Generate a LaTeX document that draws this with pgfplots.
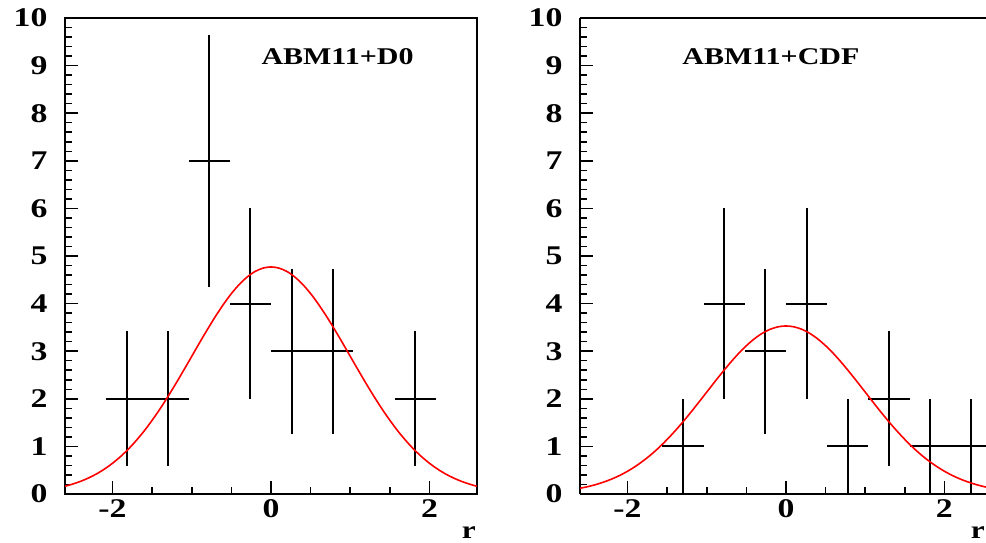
\documentclass[border=0pt]{standalone}
\usepackage{fontspec}
\setmainfont{Liberation Serif}[FakeStretch=1.25]
\usepackage{pgfplots}
\pgfplotsset{compat=1.18}
\pgfplotsset{
  rootstyle/.style={
    scale only axis,
    height=476pt,
    ymin=0, ymax=10,
    xmin=-2.6,
    tick pos=left,
    tick align=inside,
    ytick={0,1,2,3,4,5,6,7,8,9,10},
    yticklabels={0,1,2,3,4,5,6,7,8,9,10},
    minor y tick num=4,
    xtick={-2,0,2},
    xticklabels={-2,0,2},
    minor x tick num=3,
    major tick length=13pt,
    minor tick length=7pt,
    axis line style={line width=2pt},
    every tick/.style={black, line width=1.5pt},
    tick label style={font=\fontsize{27}{27}\selectfont\bfseries},
    yticklabel style={xshift=-14pt},
    xticklabel style={yshift=-2pt},
    /pgf/number format/assume math mode=true,
    clip=true,
    xlabel={r},
    xlabel style={font=\fontsize{25}{25}\selectfont\bfseries, anchor=base},
    errb/.style={black, line width=2pt, mark=none, draw=none,
      error bars/.cd, x dir=both, x explicit, y dir=both, y explicit,
      error mark=none, error bar style={black, line width=2pt}},
    fitc/.style={red, line width=1.6pt, smooth, mark=none},
  }
}
\begin{document}
\begin{tikzpicture}[x=1pt,y=1pt]
\useasboundingbox (0,0) rectangle (986,543);
\begin{axis}[rootstyle, at={(65pt,49pt)}, anchor=south west, width=412pt, xmax=2.6,
  xlabel style={at={(axis description cs:0.98,0)}, yshift=-45pt}]
\addplot[errb] coordinates {
  (-1.82,2) +- (0.26,1.414)
  (-1.30,2) +- (0.26,1.414)
  (-0.78,7) +- (0.26,2.646)
  (-0.26,4) +- (0.26,2.0)
  (0.26,3) +- (0.26,1.732)
  (0.78,3) +- (0.26,1.732)
  (1.82,2) +- (0.26,1.414)
};
\addplot[fitc] coordinates {
  (-2.6,0.162) (-2.5,0.210) (-2.4,0.268) (-2.3,0.339) (-2.2,0.424) (-2.1,0.526)
  (-2.0,0.646) (-1.9,0.785) (-1.8,0.944) (-1.7,1.125) (-1.6,1.326) (-1.5,1.549)
  (-1.4,1.790) (-1.3,2.049) (-1.2,2.322) (-1.1,2.605) (-1.0,2.893) (-0.9,3.182)
  (-0.8,3.464) (-0.7,3.734) (-0.6,3.984) (-0.5,4.210) (-0.4,4.403) (-0.3,4.560)
  (-0.2,4.676) (-0.1,4.746) (0,4.770) (0.1,4.746) (0.2,4.676) (0.3,4.560)
  (0.4,4.403) (0.5,4.210) (0.6,3.984) (0.7,3.734) (0.8,3.464) (0.9,3.182)
  (1.0,2.893) (1.1,2.605) (1.2,2.322) (1.3,2.049) (1.4,1.790) (1.5,1.549)
  (1.6,1.326) (1.7,1.125) (1.8,0.944) (1.9,0.785) (2.0,0.646) (2.1,0.526)
  (2.2,0.424) (2.3,0.339) (2.4,0.268) (2.5,0.210) (2.6,0.162)
};
\node[font=\fontsize{24}{24}\selectfont\bfseries] at (axis cs:0.84,9.18) {ABM11+D0};
\end{axis}
\begin{axis}[rootstyle, at={(580pt,49pt)}, anchor=south west, width=406pt, xmax=2.525,
  axis y line*=left,
  xlabel style={at={(axis description cs:0.98,0)}, yshift=-45pt}]
\addplot[errb] coordinates {
  (-1.30,1) +- (0.26,1.0)
  (-0.78,4) +- (0.26,2.0)
  (-0.26,3) +- (0.26,1.732)
  (0.26,4) +- (0.26,2.0)
  (0.78,1) +- (0.26,1.0)
  (1.30,2) +- (0.26,1.414)
  (1.82,1) +- (0.26,1.0)
  (2.34,1) +- (0.26,1.0)
};
\addplot[fitc] coordinates {
  (-2.6,0.120) (-2.5,0.155) (-2.4,0.198) (-2.3,0.251) (-2.2,0.314) (-2.1,0.389)
  (-2.0,0.478) (-1.9,0.581) (-1.8,0.699) (-1.7,0.832) (-1.6,0.981) (-1.5,1.146)
  (-1.4,1.325) (-1.3,1.516) (-1.2,1.718) (-1.1,1.928) (-1.0,2.141) (-0.9,2.354)
  (-0.8,2.563) (-0.7,2.763) (-0.6,2.949) (-0.5,3.115) (-0.4,3.259) (-0.3,3.375)
  (-0.2,3.460) (-0.1,3.512) (0,3.530) (0.1,3.512) (0.2,3.460) (0.3,3.375)
  (0.4,3.259) (0.5,3.115) (0.6,2.949) (0.7,2.763) (0.8,2.563) (0.9,2.354)
  (1.0,2.141) (1.1,1.928) (1.2,1.718) (1.3,1.516) (1.4,1.325) (1.5,1.146)
  (1.6,0.981) (1.7,0.832) (1.8,0.699) (1.9,0.581) (2.0,0.478) (2.1,0.389)
  (2.2,0.314) (2.3,0.251) (2.4,0.198) (2.5,0.155) (2.6,0.120)
};
\node[font=\fontsize{24}{24}\selectfont\bfseries] at (axis cs:-0.19,9.18) {ABM11+CDF};
\end{axis}
\end{tikzpicture}
\end{document}
